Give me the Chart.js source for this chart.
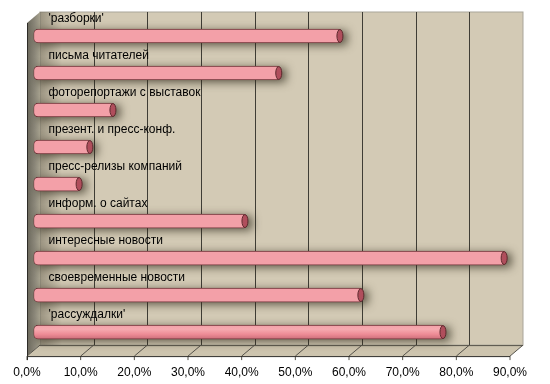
<!DOCTYPE html>
<html>
<head>
<meta charset="utf-8">
<script src="https://cdn.jsdelivr.net/npm/chart.js@4"></script>
<style>
  body { margin: 0; background: #fff; }
</style>
</head>
<body>
<canvas id="myChart" width="550" height="384"></canvas>
<script>
const categories = ["'разборки'", "письма читателей", "фоторепортажи с выставок", "презент. и пресс-конф.",
    "пресс-релизы компаний", "информ. о сайтах", "интересные новости", "своевременные новости", "'рассуждалки'"];
const values = [57.1, 45.7, 14.8, 10.5, 8.5, 39.4, 87.7, 61.0, 76.3];
const tickLabels = ["0,0%", "10,0%", "20,0%", "30,0%", "40,0%", "50,0%", "60,0%", "70,0%", "80,0%", "90,0%"];

// depth of the fake 3d box, half of it on each side of the bars
const DX = 6.5;
const DY = 5.5;

const wallPlugin = {
    id: "wall",
    beforeDatasetsDraw(chart) {
        const c = chart.ctx;
        const xs = chart.scales.x;
        const area = chart.chartArea;
        const x0 = xs.getPixelForValue(0);
        const x9 = xs.getPixelForValue(90);
        const bTop = area.top - DY, bBot = area.bottom - DY;
        const fBot = area.bottom + DY;

        c.save();
        // back wall
        c.fillStyle = "#d3cab5";
        c.fillRect(x0 + DX, bTop, x9 - x0, bBot - bTop);
        c.strokeStyle = "#a9a59a";
        c.lineWidth = 1;
        c.strokeRect(x0 + DX, bTop, x9 - x0, bBot - bTop);

        // left side wall
        let g = c.createLinearGradient(x0 - DX, 0, x0 + DX, 0);
        g.addColorStop(0, "#6a675b");
        g.addColorStop(0.6, "#8c887a");
        g.addColorStop(1, "#a7a28f");
        c.fillStyle = g;
        c.beginPath();
        c.moveTo(x0 + DX, bTop);
        c.lineTo(x0 + DX, bBot);
        c.lineTo(x0 - DX, fBot);
        c.lineTo(x0 - DX, bTop + 2 * DY);
        c.closePath();
        c.fill();

        // soft shade on the wall next to the side
        g = c.createLinearGradient(x0 + DX, 0, x0 + DX + 22, 0);
        g.addColorStop(0, "rgba(70,65,50,0.4)");
        g.addColorStop(1, "rgba(70,65,50,0)");
        c.fillStyle = g;
        c.fillRect(x0 + DX, bTop, 22, bBot - bTop);

        // floor
        c.fillStyle = "#cdc4ae";
        c.beginPath();
        c.moveTo(x0 + DX, bBot);
        c.lineTo(x9 + DX, bBot);
        c.lineTo(x9 - DX, fBot);
        c.lineTo(x0 - DX, fBot);
        c.closePath();
        c.fill();

        // grid on wall and floor
        c.strokeStyle = "#3f3d35";
        c.lineWidth = 1;
        for (let v = 10; v <= 80; v += 10) {
            const x = Math.round(xs.getPixelForValue(v) + DX) + 0.5;
            c.beginPath();
            c.moveTo(x, bTop);
            c.lineTo(x, bBot);
            c.stroke();
        }
        c.strokeStyle = "#55524a";
        for (let v = 0; v <= 90; v += 10) {
            const x = xs.getPixelForValue(v);
            c.beginPath();
            c.moveTo(x + DX, bBot);
            c.lineTo(x - DX, fBot);
            c.lineTo(x - DX, fBot + 4);
            c.stroke();
        }
        c.beginPath();
        c.moveTo(x0 + DX, bBot + 0.5);
        c.lineTo(x9 + DX, bBot + 0.5);
        c.stroke();
        c.strokeStyle = "#2e2c28";
        c.beginPath();
        c.moveTo(x0 - DX, fBot + 0.5);
        c.lineTo(x9 - DX, fBot + 0.5);
        c.moveTo(x0 - DX + 0.5, bTop + 2 * DY);
        c.lineTo(x0 - DX + 0.5, fBot + 4);
        c.stroke();

        // blurred shadow behind each bar
        c.filter = "blur(5px)";
        c.fillStyle = "rgba(45,40,25,0.75)";
        chart.getDatasetMeta(0).data.forEach(bar => {
            c.fillRect(bar.base + 4, bar.y - 5, bar.x - bar.base + 3, 14);
        });
        c.filter = "none";
        c.restore();

        // cylinder shading for each bar
        chart.getDatasetMeta(0).data.forEach(bar => {
            const gr = c.createLinearGradient(0, bar.y - 7, 0, bar.y + 7);
            gr.addColorStop(0, "#f3a0a8");
            gr.addColorStop(0.3, "#f6aab0");
            gr.addColorStop(0.65, "#ee8c96");
            gr.addColorStop(1, "#cc6e7a");
            bar.options.backgroundColor = gr;
        });
    },
    afterDatasetsDraw(chart) {
        const c = chart.ctx;
        const meta = chart.getDatasetMeta(0);
        c.save();
        meta.data.forEach((bar, i) => {
            // cylinder cap
            c.beginPath();
            c.ellipse(bar.x, bar.y, 3, 6.5, 0, 0, Math.PI * 2);
            c.fillStyle = "#b04e5c";
            c.fill();
            c.strokeStyle = "#5e2a2e";
            c.lineWidth = 1;
            c.stroke();
            // category label above the bar
            c.fillStyle = "#000";
            c.font = "12px 'Liberation Sans', Arial, sans-serif";
            c.textBaseline = "middle";
            c.fillText(categories[i], chart.chartArea.left + 15, bar.y - 17);
        });
        c.restore();
    }
};

const ctx = document.getElementById("myChart").getContext("2d");

const datasets = [
    {
        data: values,
        barThickness: 14,
        borderWidth: 1,
        borderColor: "#6e3438",
        borderSkipped: false,
        borderRadius: { topLeft: 5, bottomLeft: 5, topRight: 2, bottomRight: 2 },
        backgroundColor: "#ee8c96"
    }
];

const myChart = new Chart(ctx, {
    type: "bar",
    data: { labels: categories, datasets },
    options: {
        indexAxis: "y",
        responsive: false,
        animation: false,
        layout: { padding: { left: 33.5, right: 33.5, top: 17.5, bottom: -11 } },
        plugins: {
            legend: { display: false },
            tooltip: { enabled: false }
        },
        scales: {
            y: { display: false },
            x: {
                min: 0,
                max: 90,
                grid: { display: false, drawTicks: false },
                border: { display: false },
                ticks: {
                    stepSize: 10,
                    padding: 15,
                    labelOffset: -DX,
                    color: "#000",
                    font: { family: "'Liberation Sans', Arial, sans-serif", size: 12 },
                    callback: (v, i) => tickLabels[i]
                }
            }
        }
    },
    plugins: [wallPlugin]
});
</script>
</body>
</html>
